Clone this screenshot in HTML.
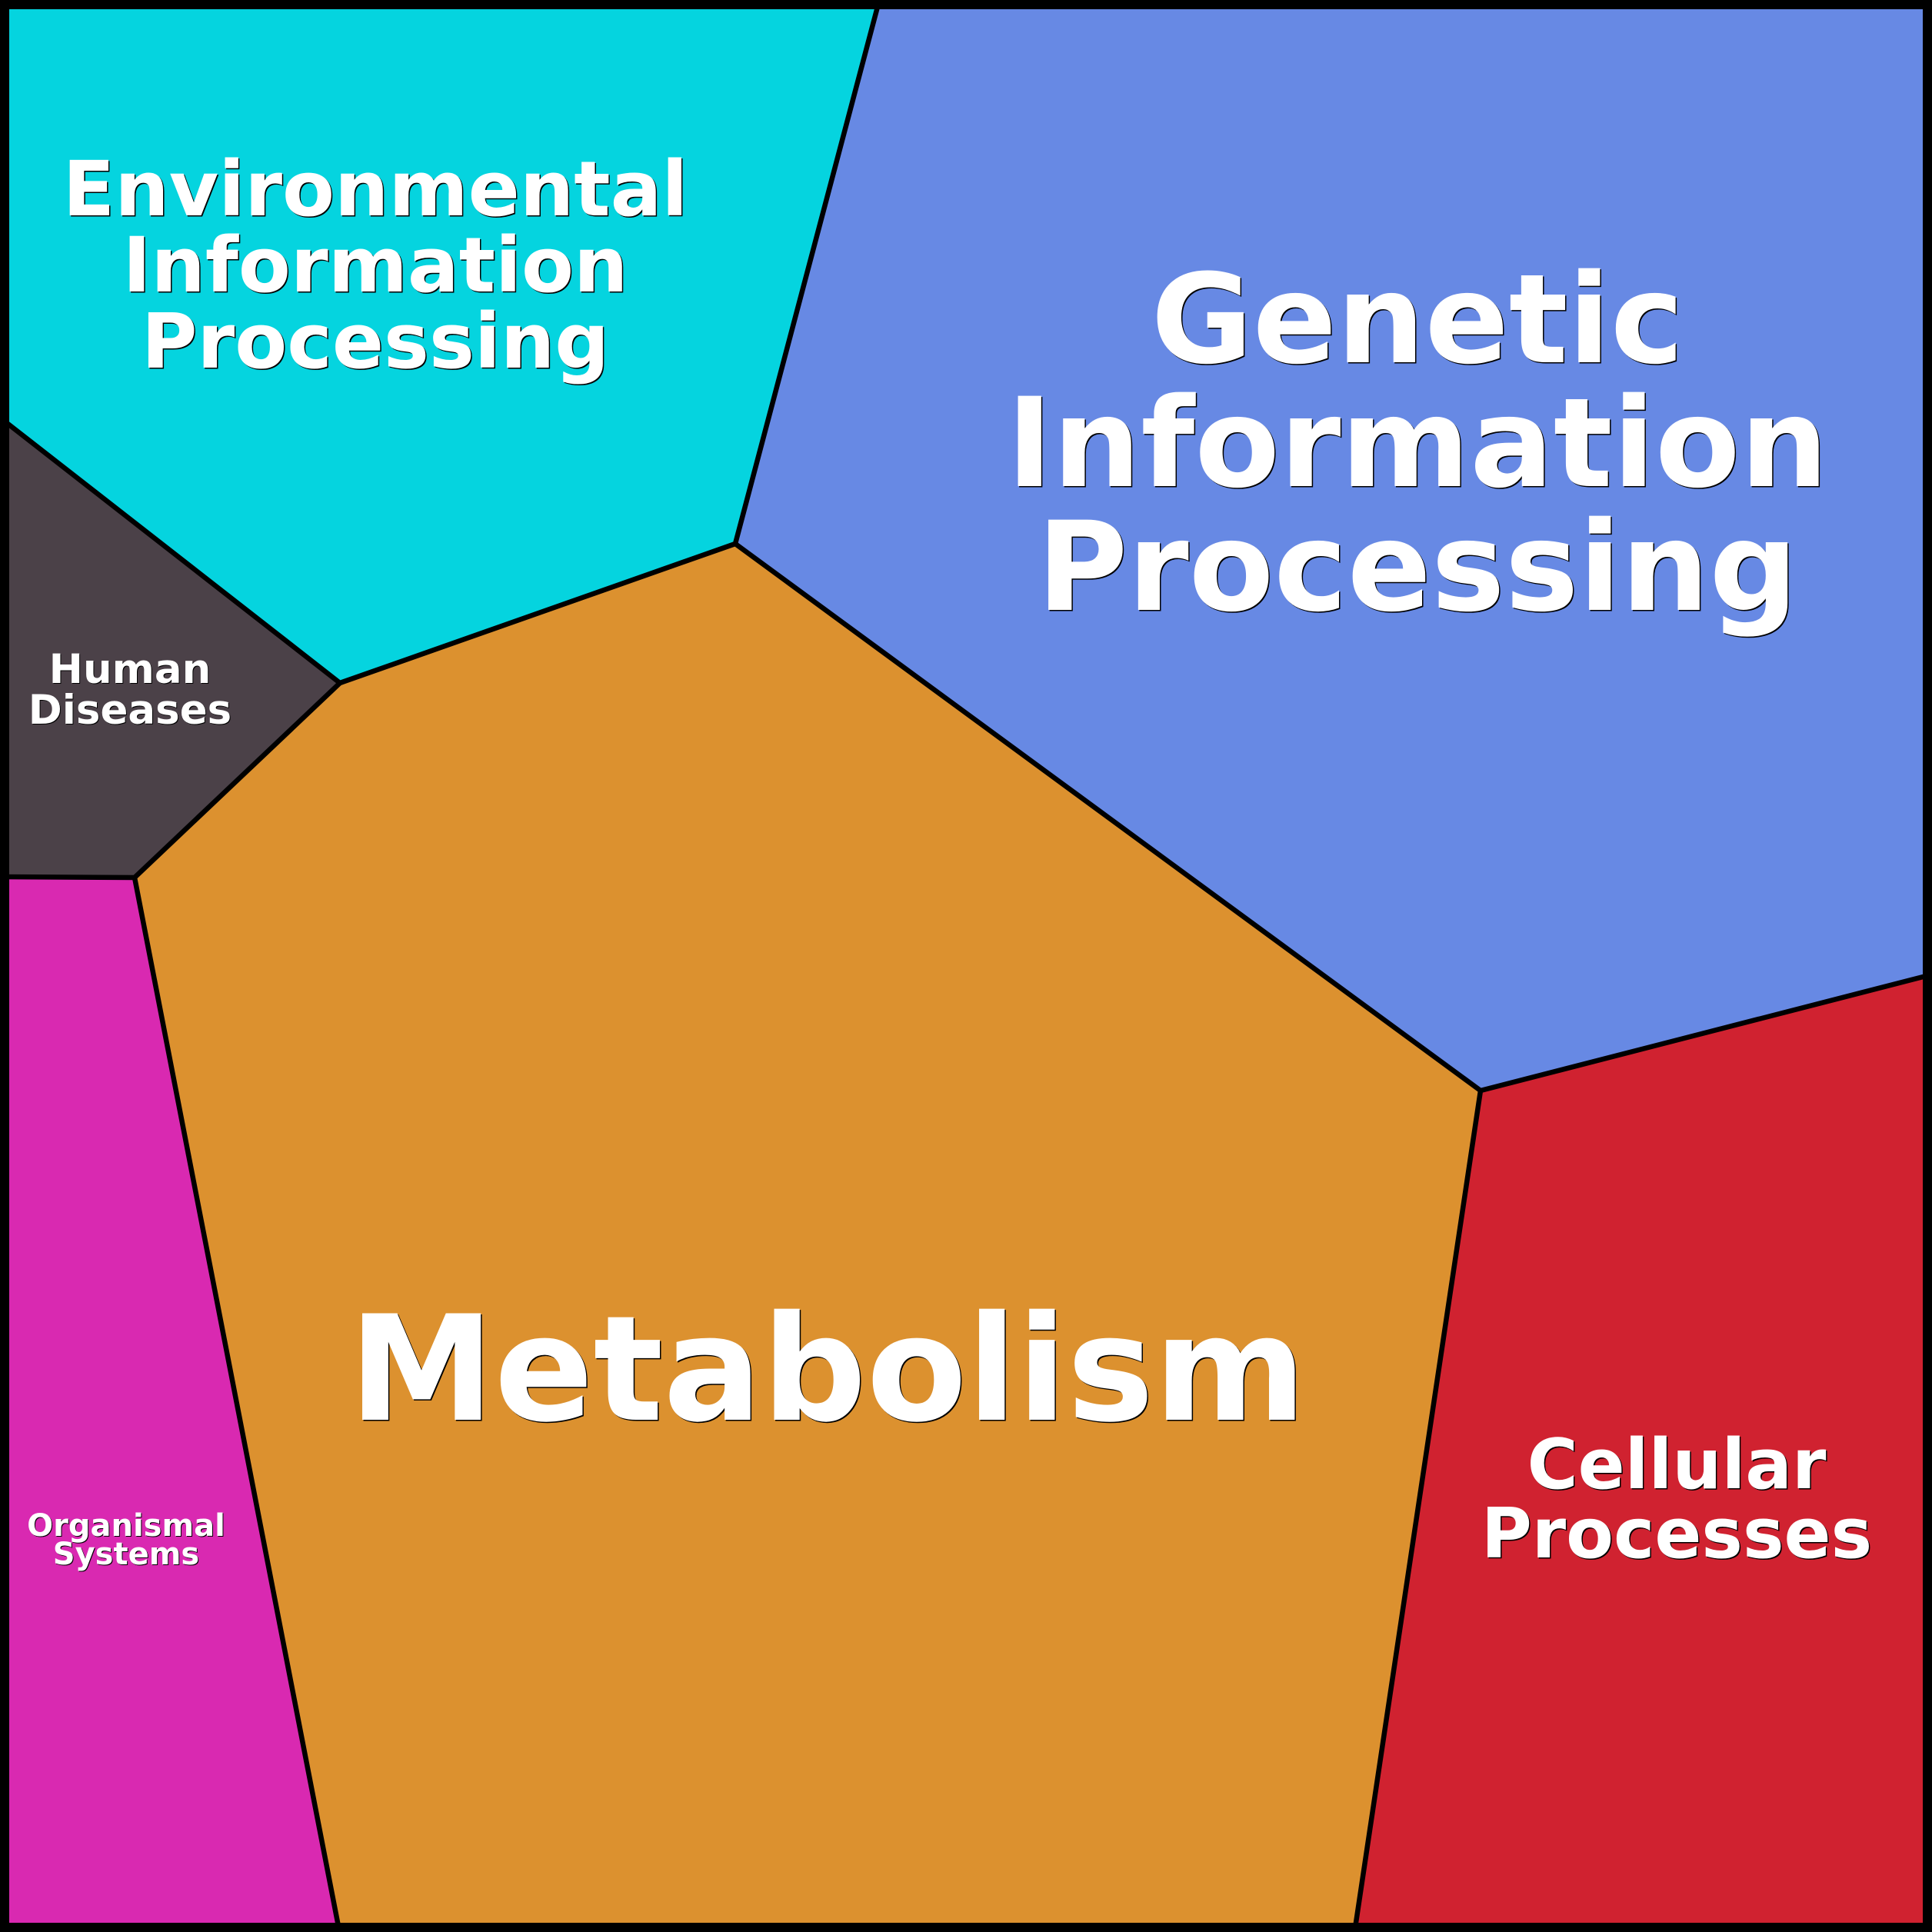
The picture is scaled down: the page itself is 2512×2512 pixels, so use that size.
<!DOCTYPE html>
<html>
<head>
<meta charset="utf-8">
<style>
  html, body { margin: 0; padding: 0; background: #fff; }
  svg { display: block; }
  text { font-family: "DejaVu Sans", "Liberation Sans", sans-serif; font-weight: bold; text-anchor: middle; }
  .sh { fill: #000; }
  .fg { fill: #fff; }
</style>
</head>
<body>
<svg width="2512" height="2512" viewBox="0 0 2512 2512" xmlns="http://www.w3.org/2000/svg">
  <!-- regions -->
  <polygon points="0,0 1144,0 956,707 442,888 0,543" fill="#05D4DF"/>
  <polygon points="1144,0 2512,0 2512,1267 1925,1418 956,707" fill="#6789E4"/>
  <polygon points="0,543 442,888 175,1141 0,1140" fill="#4B4148"/>
  <polygon points="0,1140 175,1141 441,2512 0,2512" fill="#D929B1"/>
  <polygon points="956,707 1925,1418 1762,2512 441,2512 175,1141 442,888" fill="#DC912F"/>
  <polygon points="1925,1418 2512,1267 2512,2512 1762,2512" fill="#D02230"/>

  <!-- boundaries -->
  <g fill="none" stroke="#000" stroke-width="6.5" stroke-linejoin="round" stroke-linecap="round">
    <polyline points="1146,-10 956,707 442,888 0,543"/>
    <polyline points="956,707 1925,1418 2520,1265"/>
    <polyline points="1925,1418 1760,2520"/>
    <polyline points="442,888 175,1141 0,1140"/>
    <polyline points="175,1141 443,2520"/>
  </g>
  <rect x="6" y="6" width="2500" height="2500" fill="none" stroke="#000" stroke-width="12"/>

  <!-- Environmental Information Processing -->
  <g font-size="99">
    <g class="sh" transform="translate(1.5,1.5)">
      <text x="488" y="280">Environmental</text>
      <text x="488" y="379">Information</text>
      <text x="488" y="478">Processing</text>
    </g>
    <g class="fg">
      <text x="488" y="280">Environmental</text>
      <text x="488" y="379">Information</text>
      <text x="488" y="478">Processing</text>
    </g>
  </g>

  <!-- Genetic Information Processing -->
  <g font-size="161">
    <g class="sh" transform="translate(1.5,1.5)">
      <text x="1843" y="471">Genetic</text>
      <text x="1843" y="632">Information</text>
      <text x="1843" y="793">Processing</text>
    </g>
    <g class="fg">
      <text x="1843" y="471">Genetic</text>
      <text x="1843" y="632">Information</text>
      <text x="1843" y="793">Processing</text>
    </g>
  </g>

  <!-- Human Diseases -->
  <g font-size="53">
    <g class="sh" transform="translate(1,1)">
      <text x="169" y="888">Human</text>
      <text x="169" y="941">Diseases</text>
    </g>
    <g class="fg">
      <text x="169" y="888">Human</text>
      <text x="169" y="941">Diseases</text>
    </g>
  </g>

  <!-- Metabolism -->
  <g font-size="190">
    <text class="sh" x="1077.5" y="1847.5">Metabolism</text>
    <text class="fg" x="1076" y="1846">Metabolism</text>
  </g>

  <!-- Cellular Processes -->
  <g font-size="90">
    <g class="sh" transform="translate(1.5,1.5)">
      <text x="2180" y="1935">Cellular</text>
      <text x="2180" y="2025">Processes</text>
    </g>
    <g class="fg">
      <text x="2180" y="1935">Cellular</text>
      <text x="2180" y="2025">Processes</text>
    </g>
  </g>

  <!-- Organismal Systems -->
  <g font-size="40">
    <g class="sh" transform="translate(1,1)">
      <text x="164" y="1997">Organismal</text>
      <text x="164" y="2034">Systems</text>
    </g>
    <g class="fg">
      <text x="164" y="1997">Organismal</text>
      <text x="164" y="2034">Systems</text>
    </g>
  </g>
</svg>
</body>
</html>
